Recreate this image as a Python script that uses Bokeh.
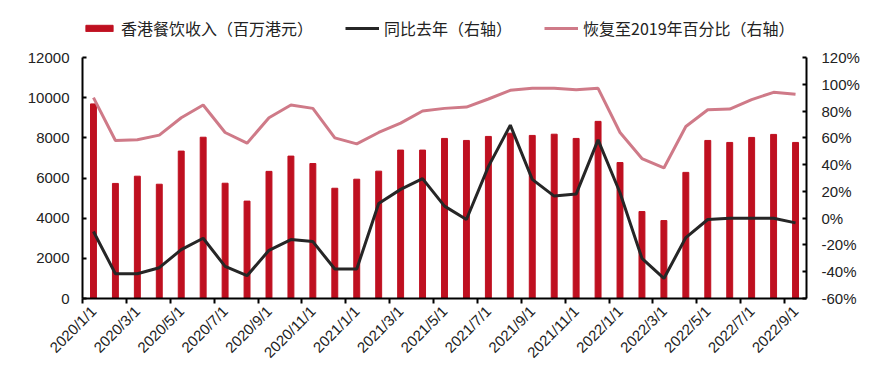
import math
from bokeh.plotting import figure
from bokeh.models import (Range1d, LinearAxis, FixedTicker, PrintfTickFormatter,
                          Legend, LegendItem, ColumnDataSource)
from bokeh.embed import file_html
from bokeh.resources import INLINE

# ---- data ----
months = ["2020/1/1", "2020/2/1", "2020/3/1", "2020/4/1", "2020/5/1", "2020/6/1",
          "2020/7/1", "2020/8/1", "2020/9/1", "2020/10/1", "2020/11/1", "2020/12/1",
          "2021/1/1", "2021/2/1", "2021/3/1", "2021/4/1", "2021/5/1", "2021/6/1",
          "2021/7/1", "2021/8/1", "2021/9/1", "2021/10/1", "2021/11/1", "2021/12/1",
          "2022/1/1", "2022/2/1", "2022/3/1", "2022/4/1", "2022/5/1", "2022/6/1",
          "2022/7/1", "2022/8/1", "2022/9/1"]
revenue = [9690, 5730, 6090, 5690, 7340, 8030, 5740, 4850, 6330, 7090, 6720, 5490,
           5940, 6340, 7390, 7390, 7970, 7870, 8070, 8230, 8120, 8180, 7970, 8820,
           6770, 4330, 3880, 6280, 7870, 7770, 8020, 8170, 7770]
yoy = [-10, -41.5, -41.5, -37, -23.5, -15, -36, -43, -24, -16, -17.5, -38,
       -38, 11, 21.5, 29.5, 9, -1, 38.5, 69.5, 29, 16.5, 18, 58.5,
       19, -30, -45, -14.5, -1, 0, 0, 0, -3.5]
recovery = [90, 58, 58.5, 62, 75, 84.5, 64, 56, 75, 84.5, 82, 60,
            55.5, 64, 71, 80, 82, 83, 89, 95.5, 97, 97, 96, 97,
            64, 44.5, 37.5, 68.5, 81, 81.5, 88.5, 94, 92.5]
left_ticks = [0, 2000, 4000, 6000, 8000, 10000, 12000]
right_ticks = [-60, -40, -20, 0, 20, 40, 60, 80, 100, 120]

name_bar = "香港餐饮收入（百万港元）"
name_yoy = "同比去年（右轴）"
name_rec = "恢复至2019年百分比（右轴）"

x = list(range(len(months)))
src = ColumnDataSource(dict(x=x, rev=revenue, yoy=yoy, rec=recovery))

TICK_FONT = "Liberation Sans"

# frame spans from y=10 to y=298; the axes (bounded) span the lower 241 px
W, H = 884, 369
TOP, BOTTOM = 10, 71
frame_h = H - TOP - BOTTOM
axis_h = 241
ext = frame_h / axis_h
left_lo, left_hi = 0, 12000
right_lo, right_hi = -60, 120

p = figure(width=W, height=H, output_backend="svg", toolbar_location=None,
           x_range=Range1d(-0.5, len(months) - 0.5),
           y_range=Range1d(left_lo, left_lo + (left_hi - left_lo) * ext),
           min_border_left=82, min_border_right=78, min_border_top=TOP,
           min_border_bottom=BOTTOM)
p.outline_line_color = None
p.xgrid.visible = False
p.ygrid.visible = False
p.background_fill_color = "white"
p.border_fill_color = "white"

p.extra_y_ranges = {"pct": Range1d(right_lo, right_lo + (right_hi - right_lo) * ext)}

bars = p.vbar(x="x", top="rev", width=0.27, source=src, color="#BF1020")
l1 = p.line(x="x", y="yoy", source=src, y_range_name="pct", line_color="#262626",
            line_width=3)
l2 = p.line(x="x", y="rec", source=src, y_range_name="pct", line_color="#CF7A88",
            line_width=3)

# x axis
xa = p.xaxis[0]
xa.ticker = FixedTicker(ticks=[i for i in x if i % 2 == 0],
                        minor_ticks=[i - 0.5 for i in x if i % 2 == 0])
xa.major_label_overrides = {i: months[i] for i in x}
xa.major_label_orientation = math.pi / 4
xa.major_tick_in = 0
xa.major_tick_out = 0
xa.minor_tick_in = 0
xa.minor_tick_out = 5
xa.minor_tick_line_width = 2
xa.minor_tick_line_color = "black"
xa.axis_line_width = 2
xa.axis_line_color = "black"
xa.major_label_standoff = 5
xa.major_label_text_font = TICK_FONT
xa.major_label_text_font_size = "15px"
xa.major_label_text_color = "#222222"

# left axis
ya = p.yaxis[0]
ya.ticker = FixedTicker(ticks=left_ticks)
ya.bounds = (left_lo, left_hi)
ya.minor_tick_line_color = None
ya.major_tick_in = 4
ya.major_tick_out = 0
ya.major_tick_line_width = 2
ya.axis_line_width = 2
ya.axis_line_color = "black"
ya.major_label_standoff = 13
ya.major_label_text_font = TICK_FONT
ya.major_label_text_font_size = "15px"
ya.major_label_text_color = "#222222"

# right axis
ra = LinearAxis(y_range_name="pct", ticker=FixedTicker(ticks=right_ticks),
                formatter=PrintfTickFormatter(format="%d%%"),
                bounds=(right_lo, right_hi))
ra.minor_tick_line_color = None
ra.major_tick_in = 4
ra.major_tick_out = 0
ra.major_tick_line_width = 2
ra.axis_line_width = 2
ra.axis_line_color = "black"
ra.major_label_standoff = 15
ra.major_label_text_font = TICK_FONT
ra.major_label_text_font_size = "15px"
ra.major_label_text_color = "#222222"
p.add_layout(ra, "right")

legend = Legend(items=[LegendItem(label=name_bar, renderers=[bars]),
                       LegendItem(label=name_yoy, renderers=[l1]),
                       LegendItem(label=name_rec, renderers=[l2])],
                orientation="horizontal", location=(0, frame_h - 30),
                border_line_color=None, background_fill_alpha=0,
                glyph_width=34, glyph_height=8, label_standoff=5, spacing=32,
                padding=0, margin=0,
                label_text_font="Noto Sans CJK SC", label_text_font_size="16px",
                label_text_color="#222222")
p.add_layout(legend, "center")

open("out.html", "w").write(file_html(p, INLINE))
